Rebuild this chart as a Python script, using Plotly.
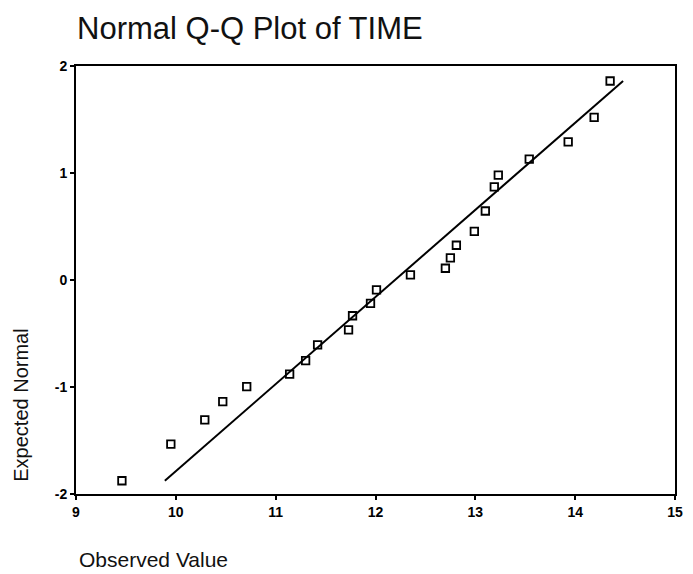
import plotly.graph_objects as go

# Data
observed = [9.46, 9.95, 10.29, 10.47, 10.71, 11.14, 11.30, 11.42, 11.73, 11.77,
            11.95, 12.01, 12.35, 12.70, 12.75, 12.81, 12.99, 13.10, 13.19, 13.23,
            13.54, 13.93, 14.19, 14.35]
expected = [-1.876, -1.533, -1.308, -1.137, -0.997, -0.879, -0.754, -0.607, -0.467, -0.334,
            -0.218, -0.093, 0.047, 0.11, 0.206, 0.325, 0.455, 0.645, 0.87, 0.98,
            1.13, 1.29, 1.52, 1.86]
line_x = [9.89, 14.48]
line_y = [-1.876, 1.86]

x_ticks = [9, 10, 11, 12, 13, 14, 15]
x_ticktext = ["9", "10", "11", "12", "13", "14", "15"]
y_ticks = [-2, -1, 0, 1, 2]
y_ticktext = ["-2", "-1", "0", "1", "2"]

FONT = "Liberation Sans, Arial, sans-serif"

fig = go.Figure()
fig.add_trace(go.Scatter(x=line_x, y=line_y, mode="lines",
                         line=dict(color="black", width=2), hoverinfo="skip"))
fig.add_trace(go.Scatter(x=observed, y=expected, mode="markers",
                         marker=dict(symbol="square-open", size=7.5,
                                     color="black", line=dict(width=1.8, color="black"))))

# page body adds an 8px offset; the figure is sized so the plot lands where the reference has it
OFF = 8
W, H = 693 - OFF, 574 - OFF
L, R, T, B = 76 - OFF, 10, 66 - OFF, 80
PW, PH = W - L - R, H - T - B

fig.update_layout(
    width=W, height=H,
    margin=dict(l=L, r=R, t=T, b=B),
    paper_bgcolor="white", plot_bgcolor="white",
    showlegend=False,
    font=dict(family=FONT, color="black"),
    title=dict(text="Normal Q-Q Plot of TIME", font=dict(size=31, family=FONT, color="#111"),
               xref="container", yref="container", x=(77 - OFF) / W, xanchor="left",
               y=1 - (28 - OFF) / H, yanchor="middle"),
    xaxis=dict(range=[9, 15], tickvals=x_ticks, ticktext=x_ticktext,
               showgrid=False, zeroline=False, showline=True, linecolor="black",
               linewidth=2, mirror=True, ticks="outside", ticklen=4, tickwidth=2,
               tickcolor="black",
               tickfont=dict(size=14, family=FONT, weight="bold")),
    yaxis=dict(range=[-2, 2], tickvals=y_ticks, ticktext=y_ticktext,
               showgrid=False, zeroline=False, showline=True, linecolor="black",
               linewidth=2, mirror=True, ticks="outside", ticklen=4, tickwidth=2,
               tickcolor="black",
               tickfont=dict(size=14, family=FONT, weight="bold")),
    annotations=[
        dict(text="Observed Value", xref="paper", yref="paper",
             x=(77 - 76) / PW, y=(494 - 559) / PH, xanchor="left", yanchor="middle",
             showarrow=False, font=dict(size=21, family=FONT, color="#111")),
        dict(text="Expected Normal", xref="paper", yref="paper",
             x=(20 - 76) / PW, y=(494 - 405) / PH, xanchor="center", yanchor="middle",
             textangle=-90, showarrow=False, font=dict(size=20, family=FONT, color="#111")),
    ],
)

fig.write_html("out.html")
